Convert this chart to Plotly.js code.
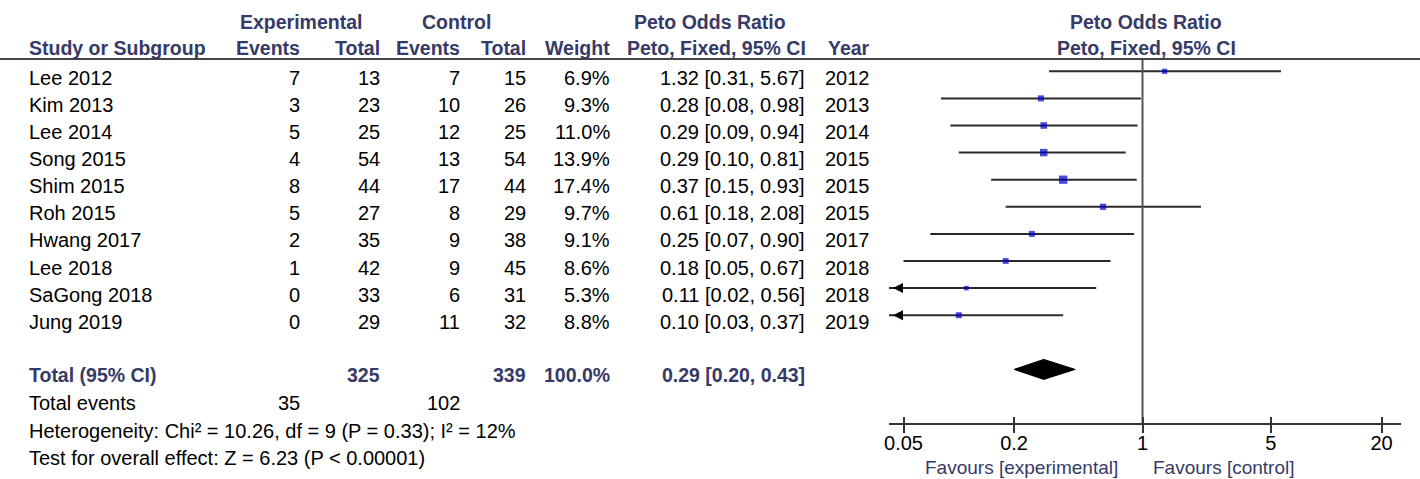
<!DOCTYPE html>
<html><head><meta charset="utf-8">
<script src="https://cdn.plot.ly/plotly-3.0.1.min.js"></script>
<style>html,body{margin:0;padding:0;background:#fff;}#chart{width:1420px;height:479px;}</style>
</head><body><div id="chart"></div>
<script>
// ---------- data ----------
const studies    = ['Lee 2012','Kim 2013','Lee 2014','Song 2015','Shim 2015','Roh 2015','Hwang 2017','Lee 2018','SaGong 2018','Jung 2019'];
const expEvents  = [7, 3, 5, 4, 8, 5, 2, 1, 0, 0];
const expTotal   = [13, 23, 25, 54, 44, 27, 35, 42, 33, 29];
const ctrlEvents = [7, 10, 12, 13, 17, 8, 9, 9, 6, 11];
const ctrlTotal  = [15, 26, 25, 54, 44, 29, 38, 45, 31, 32];
const weights    = [6.9, 9.3, 11.0, 13.9, 17.4, 9.7, 9.1, 8.6, 5.3, 8.8];
const oddsRatio  = [1.32, 0.28, 0.29, 0.29, 0.37, 0.61, 0.25, 0.18, 0.11, 0.10];
const ciLow      = [0.31, 0.08, 0.09, 0.10, 0.15, 0.18, 0.07, 0.05, 0.02, 0.03];
const ciHigh     = [5.67, 0.98, 0.94, 0.81, 0.93, 2.08, 0.90, 0.67, 0.56, 0.37];
const years      = [2012, 2013, 2014, 2015, 2015, 2015, 2017, 2018, 2018, 2019];

const totalExp = 325, totalCtrl = 339, totalWeight = 100.0;
const totalEventsExp = 35, totalEventsCtrl = 102;
const totalOR = 0.29, totalLow = 0.20, totalHigh = 0.43;
const heterogeneityText = 'Heterogeneity: Chi² = 10.26, df = 9 (P = 0.33); I² = 12%';
const overallText = 'Test for overall effect: Z = 6.23 (P &lt; 0.00001)';

const tickVals   = [0.05, 0.2, 1, 5, 20];
const tickLabels = ['0.05', '0.2', '1', '5', '20'];

// ---------- layout geometry ----------
const W = 1420, H = 479;
const ROW0 = 71.3, ROWH = 27.1;
const py = px => (px - ROW0) / ROWH;
const xf = px => px / W;
const PX_PER_DEC = 183.7;
const logLo = Math.log10(tickVals[0]) - (903.5 - 889) / PX_PER_DEC;
const logHi = logLo + (1401 - 889) / PX_PER_DEC;
const xMin = Math.pow(10, logLo);
const axisPos = 1 - 424 / H;

const FONT = '"Liberation Sans", Arial, sans-serif';
const HDR = '#363a66';
const fReg = {family: FONT, size: 20, color: '#000'};
const fBold = {family: FONT, size: 19.5, color: HDR, weight: 'bold'};

const traces = [];
// CI lines
studies.forEach((s, i) => {
  traces.push({x: [Math.max(ciLow[i], xMin), ciHigh[i]], y: [i, i], mode: 'lines',
    line: {color: '#2a2a2a', width: 2}, hoverinfo: 'skip', showlegend: false, xaxis: 'x', yaxis: 'y'});
});
// arrows for truncated CIs
const arrX = [], arrY = [];
studies.forEach((s, i) => { if (ciLow[i] < xMin) { arrX.push(xMin * Math.pow(10, 4 / PX_PER_DEC)); arrY.push(i); } });
traces.push({x: arrX, y: arrY, mode: 'markers', marker: {symbol: 'arrow-left', size: 10, color: '#000'},
  hoverinfo: 'skip', showlegend: false});
// squares
traces.push({x: oddsRatio, y: studies.map((s, i) => i), mode: 'markers',
  marker: {symbol: 'square', color: '#0000cc', size: weights.map(w => 2 * Math.sqrt(w)), line: {width: 0}},
  hoverinfo: 'skip', showlegend: false});
// diamond
const dRow = 11, dH = 10 / ROWH;
traces.push({x: [totalLow, totalOR, totalHigh, totalOR, totalLow], y: [dRow, dRow - dH, dRow, dRow + dH, dRow],
  mode: 'lines', fill: 'toself', fillcolor: '#000', line: {color: '#000', width: 1}, hoverinfo: 'skip', showlegend: false});
// line of no effect
traces.push({x: [1, 1], y: [py(59), py(424)], mode: 'lines', line: {color: '#555', width: 2},
  hoverinfo: 'skip', showlegend: false});
// overlay axis for inner ticks
traces.push({x: [1], y: [0], mode: 'markers', marker: {opacity: 0}, xaxis: 'x2', yaxis: 'y', hoverinfo: 'skip', showlegend: false});

// ---------- annotations ----------
const ann = [];
function T(text, xpx, ypx, anchor, font) {
  ann.push({text, x: xf(xpx), xref: 'paper', y: py(ypx), yref: 'y', xanchor: anchor, yanchor: 'middle',
    showarrow: false, font: font || fReg, borderpad: 0});
}
// headers
T('Experimental', 301, 21.5, 'center', fBold);
T('Control', 456, 21.5, 'center', fBold);
T('Peto Odds Ratio', 710, 21.5, 'center', fBold);
T('Peto Odds Ratio', 1146, 21.5, 'center', fBold);
T('Study or Subgroup', 28, 47.5, 'left', fBold);
T('Events', 301, 47.5, 'right', fBold);
T('Total', 381, 47.5, 'right', fBold);
T('Events', 461, 47.5, 'right', fBold);
T('Total', 527, 47.5, 'right', fBold);
T('Weight', 611, 47.5, 'right', fBold);
T('Peto, Fixed, 95% CI', 807, 47.5, 'right', fBold);
T('Year', 871, 47.5, 'right', fBold);
T('Peto, Fixed, 95% CI', 1146, 47.5, 'center', fBold);
// rows
studies.forEach((s, i) => {
  const yp = ROW0 + ROWH * i + 6.5;
  T(s, 28, yp, 'left');
  T(String(expEvents[i]), 301, yp, 'right');
  T(String(expTotal[i]), 381, yp, 'right');
  T(String(ctrlEvents[i]), 461, yp, 'right');
  T(String(ctrlTotal[i]), 527, yp, 'right');
  T(weights[i].toFixed(1) + '%', 611, yp, 'right');
  T(oddsRatio[i].toFixed(2) + ' [' + ciLow[i].toFixed(2) + ', ' + ciHigh[i].toFixed(2) + ']', 806, yp, 'right');
  T(String(years[i]), 871, yp, 'right');
});
// totals
T('Total (95% CI)', 28, 375, 'left', fBold);
T(String(totalExp), 381, 375, 'right', fBold);
T(String(totalCtrl), 527, 375, 'right', fBold);
T(totalWeight.toFixed(1) + '%', 611, 375, 'right', fBold);
T(totalOR.toFixed(2) + ' [' + totalLow.toFixed(2) + ', ' + totalHigh.toFixed(2) + ']', 806, 375, 'right', fBold);
T('Total events', 28, 403, 'left');
T(String(totalEventsExp), 301, 403, 'right');
T(String(totalEventsCtrl), 461, 403, 'right');
T(heterogeneityText, 28, 431, 'left');
T(overallText, 28, 458, 'left');
// favours
const fFav = {family: FONT, size: 19, color: HDR};
T('Favours [experimental]', 1119, 467, 'right', fFav);
T('Favours [control]', 1152, 467, 'left', fFav);

const axisCommon = {type: 'log', domain: [xf(889), xf(1401)], range: [logLo, logHi], anchor: 'free',
  position: axisPos, showgrid: false, zeroline: false, fixedrange: true};

const layout = {
  width: W, height: H, margin: {l: 0, r: 0, t: 0, b: 0},
  paper_bgcolor: '#fff', plot_bgcolor: 'rgba(0,0,0,0)', showlegend: false,
  xaxis: Object.assign({}, axisCommon, {showline: true, linecolor: '#333', linewidth: 2,
    ticks: 'outside', ticklen: 8, tickwidth: 2, tickcolor: '#333', ticklabelstandoff: -7,
    tickmode: 'array', tickvals: tickVals, ticktext: tickLabels,
    tickfont: {family: FONT, size: 20, color: '#000'}}),
  xaxis2: Object.assign({}, axisCommon, {overlaying: 'x', showline: false, ticks: 'inside', ticklen: 7,
    tickwidth: 2, tickcolor: '#333', tickmode: 'array', tickvals: tickVals, showticklabels: false}),
  yaxis: {domain: [0, 1], range: [py(H), py(0)], visible: false, fixedrange: true},
  shapes: [{type: 'line', xref: 'paper', x0: 0, x1: 1, yref: 'y', y0: py(59), y1: py(59),
    line: {color: '#444', width: 2}}],
  annotations: ann
};

Plotly.newPlot('chart', traces, layout, {displayModeBar: false, staticPlot: true});
</script>
</body></html>
